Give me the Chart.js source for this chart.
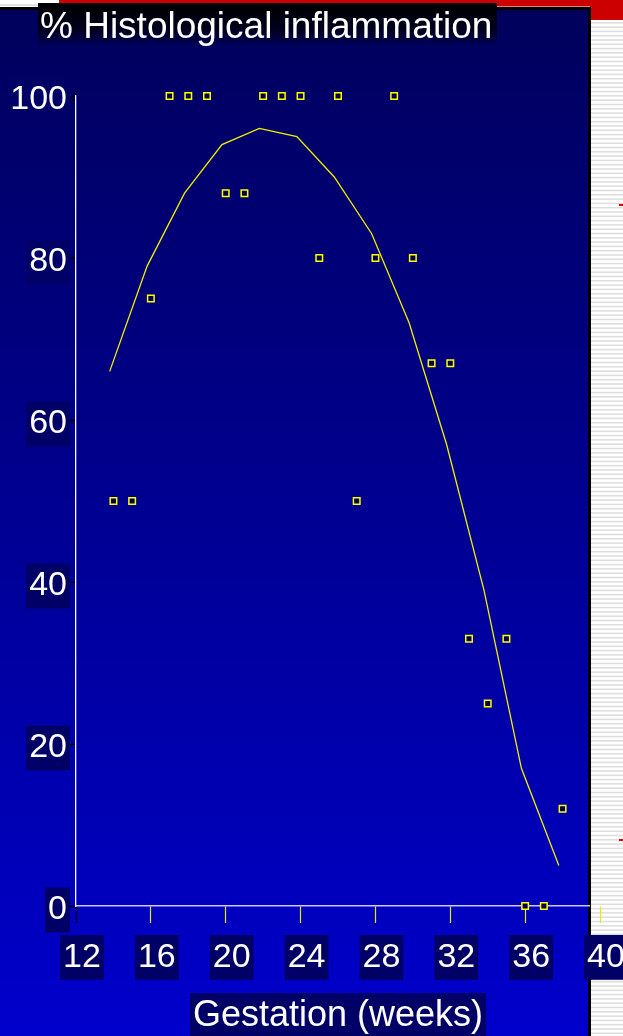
<!DOCTYPE html>
<html><head><meta charset="utf-8">
<script src="https://cdn.jsdelivr.net/npm/chart.js@4/dist/chart.umd.min.js"></script>
<style>html,body{margin:0;padding:0;background:#fff;overflow:hidden}canvas{display:block}</style>
</head><body>
<canvas id="c" width="623" height="1036" style="width:623px;height:1036px"></canvas>
<script>
const chartTitle = '% Histological inflammation';
const xAxisTitle = 'Gestation (weeks)';
const xTickValues = [12, 16, 20, 24, 28, 32, 36, 40];
const yTickValues = [0, 20, 40, 60, 80, 100];
const pointWeeks = [14, 15, 16, 17, 18, 19, 20, 21, 22, 23, 24, 25, 26, 27, 28, 29, 30, 31, 32, 33, 34, 35, 36, 37, 38];
const pointPct   = [50, 50, 75, 100, 100, 100, 88, 88, 100, 100, 100, 80, 100, 50, 80, 100, 80, 67, 67, 33, 25, 33, 0, 0, 12];
const fitWeeks = [13.8, 15.8, 17.8, 19.8, 21.8, 23.8, 25.8, 27.8, 29.8, 31.8, 33.8, 35.8, 37.8];
const fitPct   = [66, 79, 88, 94, 96, 95, 90, 83, 72, 57, 39, 17, 5];

const FONT = "'Liberation Sans', Arial, sans-serif";
const canvas = document.getElementById('c');
const ctx0 = canvas.getContext('2d');
const xBorderGrad = ctx0.createLinearGradient(0, 0, 623, 0);
xBorderGrad.addColorStop(0, '#c8c8f0');
xBorderGrad.addColorStop(590 / 623, '#c8c8f0');
xBorderGrad.addColorStop(590 / 623, 'rgba(0,0,0,0)');
xBorderGrad.addColorStop(1, 'rgba(0,0,0,0)');

const backdropPlugin = {
  id: 'slideBackground',
  afterLayout(chart) {
    // title text starts at x = 40 in the slide
    if (chart.titleBlock) { chart.titleBlock.left = 40; }
  },
  beforeDraw(chart) {
    const c = chart.ctx;
    const W = chart.width, H = chart.height;
    c.save();
    c.fillStyle = '#ffffff';
    c.fillRect(0, 0, W, H);
    // right striped strip
    c.fillStyle = '#dedede';
    for (let y = 22; y < H; y += 4.3) c.fillRect(591, y, W - 591, 1.6);
    // top-left strip
    c.fillStyle = '#d0d0d0';
    c.fillRect(0, 4.5, 40, 1.2);
    // red band
    c.fillStyle = '#cc0000';
    c.fillRect(59, 0, W - 59, 6.5);
    c.fillRect(590, 0, W - 590, 20);
    // panel border + gradient panel
    c.fillStyle = '#000000';
    c.fillRect(0, 7, 591, H - 7);
    const g = c.createLinearGradient(0, 10, 0, H);
    g.addColorStop(0, '#00005c');
    g.addColorStop(0.35, '#000082');
    g.addColorStop(1, '#0000cc');
    c.fillStyle = g;
    c.fillRect(0, 10, 588, H - 10);
    // title box
    const tg = c.createLinearGradient(0, 3, 0, 46);
    tg.addColorStop(0, '#000000');
    tg.addColorStop(0.6, '#00001c');
    tg.addColorStop(1, '#00005c');
    c.fillStyle = tg;
    c.fillRect(38, 3, 459, 43);
    // x-axis title box
    const xs = chart.scales.x;
    c.font = '36px ' + FONT;
    const tw = c.measureText(xAxisTitle).width;
    const cx = (xs.left + xs.right) / 2;
    c.fillStyle = '#000066';
    c.fillRect(cx - tw / 2 - 3, 993, tw + 6, H - 993);
    // small red marks on the right strip
    c.fillStyle = '#ee0000';
    c.fillRect(619, 204, 4, 2);
    c.fillRect(619, 839, 4, 2);
    c.restore();
  }
};

new Chart(canvas, {
  type: 'scatter',
  data: {
    datasets: [
      {
        label: 'fit',
        data: fitWeeks.map((w, i) => ({ x: w, y: fitPct[i] })),
        showLine: true,
        borderColor: '#f0f000',
        borderWidth: 1.3,
        pointRadius: 0,
        tension: 0,
        fill: false,
        clip: false
      },
      {
        label: 'cases',
        data: pointWeeks.map((w, i) => ({ x: w, y: pointPct[i] })),
        pointStyle: 'rect',
        pointRadius: 4.6,
        borderWidth: 1.5,
        borderColor: '#ffff00',
        backgroundColor: '#00004a',
        clip: false
      }
    ]
  },
  options: {
    responsive: false,
    animation: false,
    devicePixelRatio: 1,
    layout: { padding: { left: 0, right: 23, top: 0, bottom: 0 } },
    plugins: {
      legend: { display: false },
      tooltip: { enabled: false },
      title: {
        display: true,
        text: chartTitle,
        align: 'start',
        color: '#ffffff',
        font: { family: FONT, size: 37, weight: 'normal', lineHeight: 1 },
        padding: { top: 9.5, bottom: 49.5 }
      }
    },
    scales: {
      x: {
        type: 'linear',
        min: 12, max: 40,
        afterBuildTicks(s) { s.ticks = xTickValues.map(v => ({ value: v })); },
        afterFit(s) { s.height = 130; s.paddingLeft = 0; s.paddingRight = 0; },
        grid: {
          drawOnChartArea: false,
          drawTicks: true,
          tickLength: 17,
          tickWidth: 1.2,
          tickColor: (ctx) => (ctx.tick && ctx.tick.value === 12) ? '#000000' : '#e8e800'
        },
        border: { display: true, color: xBorderGrad, width: 1.5 },
        ticks: {
          color: '#ffffff',
          font: { family: FONT, size: 34 },
          padding: 14,
          labelOffset: 6,
          maxRotation: 0,
          autoSkip: false,
          showLabelBackdrop: true,
          backdropColor: '#000066',
          backdropPadding: { left: 3, right: 3, top: 2, bottom: 2 }
        },
        title: {
          display: true,
          text: xAxisTitle,
          color: '#ffffff',
          font: { family: FONT, size: 36, lineHeight: 1 },
          padding: { top: 0, bottom: 2 }
        }
      },
      y: {
        type: 'linear',
        min: 0, max: 100,
        afterBuildTicks(s) { s.ticks = yTickValues.map(v => ({ value: v })); },
        afterFit(s) { s.width = 76; s.paddingTop = 0; s.paddingBottom = 0; },
        grid: {
          drawOnChartArea: false,
          drawTicks: true,
          tickLength: 9,
          tickWidth: 1.5,
          tickColor: '#000000'
        },
        border: { display: true, color: '#ffffff', width: 1.3 },
        ticks: {
          color: '#ffffff',
          font: { family: FONT, size: 34 },
          padding: 0,
          labelOffset: 4,
          showLabelBackdrop: true,
          backdropColor: '#000066',
          backdropPadding: { left: 3, right: 3, top: 2, bottom: 2 }
        }
      }
    }
  },
  plugins: [backdropPlugin]
});
</script>
</body></html>
